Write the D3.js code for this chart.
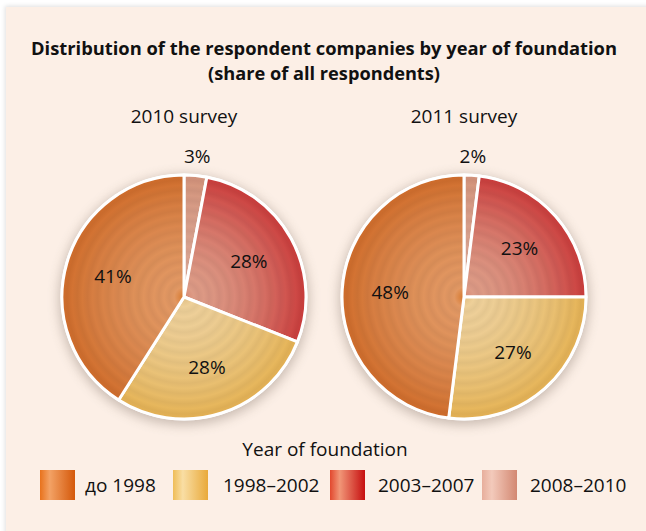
<!DOCTYPE html>
<html>
<head>
<meta charset="utf-8">
<script src="https://cdn.jsdelivr.net/npm/d3@7"></script>
<style>
  html, body { margin: 0; padding: 0; background: #fff; }
  svg { display: block; }
  text { font-family: "Open Sans", "Noto Sans", sans-serif; fill: #111; }
</style>
</head>
<body>
<div id="vis"></div>
<script>
// ---- data ----
const TITLE_LINES = ["Distribution of the respondent companies by year of foundation",
                     "(share of all respondents)"];
const CATEGORIES = ["до 1998", "1998–2002", "2003–2007", "2008–2010"];
const SURVEYS = ["2010 survey", "2011 survey"];
const SHARES_2010 = [41, 28, 28, 3];
const SHARES_2011 = [48, 27, 23, 2];
const LEGEND_TITLE = "Year of foundation";

// ---- layout ----
const FRAME_WIDTH = 646;
const FRAME_HEIGHT = 531;
const RADIUS = 122;
const PIE_CY = 297;
const PIE_CX = [184, 464];

// colours for slices: [center, inner, outer]
const SLICE_COLORS = {
  "до 1998":   ["#d5762a", "#dc9461", "#cc6a2a"],
  "1998–2002": ["#e0bd82", "#e8cb95", "#e0ae52"],
  "2003–2007": ["#d68870", "#d89783", "#c73a3a"],
  "2008–2010": ["#d49a86", "#d6a290", "#cf9078"]
};
const SWATCH_COLORS = {
  "до 1998":   ["#e8721c", "#f3a265", "#d4580a"],
  "1998–2002": ["#efbd58", "#f9dea4", "#e9a93a"],
  "2003–2007": ["#e2482e", "#f19677", "#c60f10"],
  "2008–2010": ["#e7ae9c", "#f3cabb", "#d38872"]
};

const svg = d3.select("#vis")
  .append("svg")
    .attr("width", FRAME_WIDTH)
    .attr("height", FRAME_HEIGHT);

const defs = svg.append("defs");

// panel shadow
const pshadow = defs.append("filter").attr("id", "pshadow")
  .attr("x", "-5%").attr("y", "-5%").attr("width", "110%").attr("height", "110%");
pshadow.append("feDropShadow").attr("dx", -1).attr("dy", -1)
  .attr("stdDeviation", 2).attr("flood-color", "#000").attr("flood-opacity", 0.12);

// pie shadow
const shadow = defs.append("filter").attr("id", "pieshadow")
  .attr("x", "-20%").attr("y", "-20%").attr("width", "140%").attr("height", "140%");
shadow.append("feGaussianBlur").attr("stdDeviation", 6);

// radial gradients with faint rings
CATEGORIES.forEach((c, ci) => {
  const cols = SLICE_COLORS[c];
  const g = defs.append("radialGradient")
    .attr("id", "rg" + ci)
    .attr("gradientUnits", "userSpaceOnUse")
    .attr("cx", 0).attr("cy", 0).attr("r", RADIUS);
  g.append("stop").attr("offset", 0).attr("stop-color", cols[0]);
  const interp = d3.interpolateRgb(cols[1], cols[2]);
  const N = 22;
  for (let i = 0; i <= N; i++) {
    const t = 0.08 + 0.92 * i / N;
    let col = d3.rgb(interp(Math.pow(i / N, 1.6)));
    col = (i % 2 === 0) ? col.brighter(0.07) : col.darker(0.05);
    g.append("stop").attr("offset", t).attr("stop-color", col.formatHex());
  }
});

// legend gradients
CATEGORIES.forEach((c, ci) => {
  const cols = SWATCH_COLORS[c];
  const g = defs.append("linearGradient").attr("id", "lg" + ci)
    .attr("x1", 0).attr("x2", 1).attr("y1", 0).attr("y2", 0);
  g.append("stop").attr("offset", 0).attr("stop-color", cols[0]);
  g.append("stop").attr("offset", 0.28).attr("stop-color", cols[1]);
  g.append("stop").attr("offset", 1).attr("stop-color", cols[2]);
});

// background panel
svg.append("rect")
  .attr("x", 6).attr("y", 7)
  .attr("width", FRAME_WIDTH).attr("height", FRAME_HEIGHT)
  .attr("fill", "#fcefe6")
  .attr("filter", "url(#pshadow)");

// title (squeezed a little to mimic the condensed face)
svg.append("text")
  .attr("x", 324).attr("y", 55)
  .attr("text-anchor", "middle")
  .attr("font-weight", "bold")
  .attr("font-size", 18)
  .attr("textLength", 586)
  .attr("lengthAdjust", "spacingAndGlyphs")
  .text(TITLE_LINES[0]);
svg.append("text")
  .attr("x", 324).attr("y", 80)
  .attr("text-anchor", "middle")
  .attr("font-weight", "bold")
  .attr("font-size", 18)
  .attr("textLength", 232)
  .attr("lengthAdjust", "spacingAndGlyphs")
  .text(TITLE_LINES[1]);

// pies
const pie = d3.pie().sort(null).value(d => d.value);
const arc = d3.arc().innerRadius(0).outerRadius(RADIUS);
const labelArc = d3.arc().innerRadius(0).outerRadius(148);
const outArc = d3.arc().innerRadius(141).outerRadius(141);

[SHARES_2010, SHARES_2011].forEach((shares, si) => {
  // clockwise from 12 o'clock: newest category first
  const data = CATEGORIES.map((c, i) => ({cat: c, idx: i, value: shares[i]})).reverse();

  svg.append("text")
    .attr("x", PIE_CX[si]).attr("y", 123)
    .attr("text-anchor", "middle")
    .attr("font-size", 19)
    .text(SURVEYS[si]);

  const g = svg.append("g")
    .attr("transform", "translate(" + PIE_CX[si] + "," + PIE_CY + ")");

  g.append("circle")
    .attr("cx", 0).attr("cy", 3).attr("r", RADIUS + 3)
    .attr("fill", "#8a7a70").attr("opacity", 0.45)
    .attr("filter", "url(#pieshadow)");

  g.append("circle").attr("r", RADIUS + 1.5).attr("fill", "#fff");

  g.selectAll("path")
    .data(pie(data))
    .enter()
    .append("path")
      .attr("d", arc)
      .attr("fill", d => "url(#rg" + d.data.idx + ")")
      .attr("stroke", "#fff")
      .attr("stroke-width", 3)
      .attr("stroke-linejoin", "round");

  g.selectAll("text.lbl")
    .data(pie(data))
    .enter()
    .append("text")
      .attr("class", "lbl")
      .attr("transform", d => {
        const p = d.data.value < 5 ? outArc.centroid(d) : labelArc.centroid(d);
        return "translate(" + p[0] + "," + p[1] + ")";
      })
      .attr("text-anchor", "middle")
      .attr("dy", "0.35em")
      .attr("font-size", 19)
      .text(d => d.data.value + "%");
});

// legend
svg.append("text")
  .attr("x", 325).attr("y", 456)
  .attr("text-anchor", "middle")
  .attr("font-size", 19)
  .text(LEGEND_TITLE);

const LEGEND_X = [40, 173, 330, 482];
const leg = svg.selectAll("g.leg")
  .data(CATEGORIES)
  .enter()
  .append("g")
    .attr("class", "leg")
    .attr("transform", (d, i) => "translate(" + LEGEND_X[i] + ",470)");
leg.append("rect")
  .attr("width", 35).attr("height", 30)
  .attr("fill", (d, i) => "url(#lg" + i + ")");
leg.append("text")
  .attr("x", (d, i) => i === 0 ? 45 : (i === 1 ? 50 : 48))
  .attr("y", 22)
  .attr("font-size", 19)
  .text(d => d);
</script>
</body>
</html>
